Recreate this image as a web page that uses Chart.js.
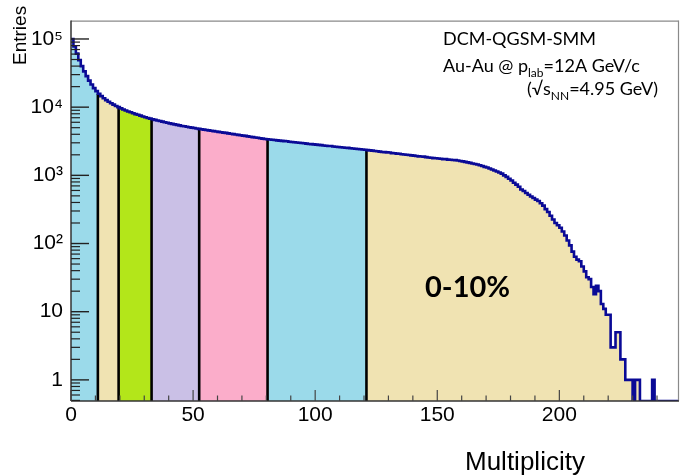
<!DOCTYPE html>
<html>
<head>
<meta charset="utf-8">
<script src="https://cdn.jsdelivr.net/npm/chart.js@4/dist/chart.umd.min.js"></script>
<style>
  html, body { margin: 0; padding: 0; background: #fff; }
  canvas { display: block; }
</style>
</head>
<body>
<canvas id="c" width="681" height="476"></canvas>
<script>
// ---- data ----
// entries per multiplicity bin (bin width 1, bins 0..248)
const entries = [
  100000, 78000, 61000, 49000, 40000, 33500, 28500, 24500, 21500, 19000,
  17200, 15700, 14500, 13500, 12700, 12000, 11400, 10900, 10400, 10000,
  9600, 9250, 8950, 8650, 8400, 8150, 7900, 7740, 7500, 7300,
  7120, 6950, 6800, 6650, 6500, 6370, 6250, 6130, 6010, 5900,
  5790, 5690, 5590, 5500, 5410, 5300, 5240, 5160, 5080, 5010,
  4940, 4870, 4800, 4740, 4680, 4620, 4560, 4500, 4445, 4390,
  4335, 4280, 4225, 4190, 4120, 4070, 4020, 3970, 3920, 3870,
  3825, 3790, 3730, 3685, 3640, 3595, 3550, 3505, 3460, 3420,
  3380, 3350, 3320, 3290, 3260, 3230, 3200, 3170, 3160, 3110,
  3085, 3055, 3030, 3000, 2975, 2950, 2920, 2880, 2870, 2845,
  2820, 2795, 2770, 2745, 2720, 2700, 2690, 2650, 2630, 2605,
  2585, 2560, 2540, 2530, 2495, 2475, 2455, 2435, 2415, 2395,
  2375, 2340, 2320, 2300, 2270, 2260, 2230, 2200, 2190, 2170,
  2160, 2120, 2110, 2080, 2070, 2040, 2025, 2000, 1985, 1960,
  1945, 1920, 1900, 1890, 1880, 1850, 1830, 1815, 1790, 1780,
  1770, 1750, 1730, 1735, 1700, 1690, 1680, 1670, 1650, 1625,
  1600, 1575, 1550, 1525, 1495, 1470, 1440, 1405, 1370, 1330,
  1300, 1260, 1220, 1180, 1140, 1100, 1060, 1000, 950, 890,
  840, 780, 730, 680, 620, 590, 550, 520, 490, 465,
  440, 420, 390, 360, 320, 290, 255, 225, 200, 185,
  170, 150, 131, 111, 94, 76, 64, 58, 55, 46,
  39, 32, 30, 23, 18, 24, 20, 13, 11, 9,
  9, 3, 3, 5, 5, 2, 2, 1, 1, 1,
  0, 1, 1, 0, 0, 0, 0, 0, 1, 0,
  0, 0, 0, 0, 0, 0, 0, 0, 0
];
// centrality class boundaries in multiplicity
const classEdges = [0, 11, 19.5, 33, 52.5, 80.5, 121, 249];
const classColors = ['#9bdaea', '#f0e3b2', '#b3e61a', '#cac0e6', '#fbadca', '#9bdaea', '#f0e3b2'];
const classLabel = '0-10%';

const xTickValues = [0, 50, 100, 150, 200];
const yTickValues = [1, 10, 100, 1000, 10000, 100000];
const yTickLabels = ['1', '10', '10\u00B2', '10\u00B3', '10\u2074', '10\u2075'];
const X_MIN = 0, X_MAX = 249;
const Y_MIN = 0.49, Y_MAX = 186000;

// ---- build datasets ----
const shown = v => (v > 0 ? v : Y_MIN); // empty bins drawn at the axis floor (as ROOT does)

function segmentPoints(a, b) {
  const pts = [{ x: a, y: shown(entries[Math.floor(a)]) }];
  for (let i = Math.floor(a) + 1; i <= Math.ceil(b) - 1; i++) pts.push({ x: i, y: shown(entries[i]) });
  pts.push({ x: b, y: shown(entries[Math.ceil(b) - 1]) });
  return pts;
}

const datasets = [];
// outline histogram
datasets.push({
  data: segmentPoints(X_MIN, X_MAX),
  stepped: 'before',
  borderColor: '#0a0a96',
  borderWidth: 2.6,
  fill: false,
  pointRadius: 0,
  order: 0
});
// class boundaries (black lines)
for (let k = 1; k < classEdges.length - 1; k++) {
  const b = classEdges[k];
  datasets.push({
    data: [{ x: b, y: Y_MIN }, { x: b, y: shown(entries[Math.floor(b)]) }],
    borderColor: '#000',
    borderWidth: 2.6,
    fill: false,
    pointRadius: 0,
    order: 1
  });
}
// filled classes
for (let k = 0; k < classEdges.length - 1; k++) {
  datasets.push({
    data: segmentPoints(classEdges[k], classEdges[k + 1]),
    stepped: 'before',
    borderWidth: 0,
    borderColor: 'rgba(0,0,0,0)',
    backgroundColor: classColors[k],
    fill: 'start',
    pointRadius: 0,
    order: 2
  });
}

// ---- axes, ticks, frame and texts ----
const overlay = {
  id: 'overlay',
  afterDatasetsDraw(chart) {
    const { ctx, chartArea: a, scales: { x, y } } = chart;
    ctx.save();
    const seg = (x1, y1, x2, y2) => { ctx.beginPath(); ctx.moveTo(x1, y1); ctx.lineTo(x2, y2); ctx.stroke(); };
    // frame
    ctx.strokeStyle = '#8a8a8a'; ctx.lineWidth = 1.2;
    seg(a.left, a.top + 0.5, a.right - 0.5, a.top + 0.5);
    seg(a.right - 0.5, a.top, a.right - 0.5, a.bottom);
    ctx.strokeStyle = '#333'; ctx.lineWidth = 1.5;
    seg(a.left, a.top, a.left, a.bottom);
    seg(a.left, a.bottom, a.right, a.bottom);
    // y ticks (log)
    ctx.strokeStyle = '#222'; ctx.lineWidth = 1.4;
    for (const v of yTickValues) { const py = y.getPixelForValue(v); seg(a.left, py, a.left + 18, py); }
    ctx.lineWidth = 1.2;
    for (let d = -1; d <= 5; d++) {
      for (let m = 2; m <= 9; m++) {
        const v = m * Math.pow(10, d);
        if (v < Y_MIN || v > Y_MAX) continue;
        const py = y.getPixelForValue(v);
        seg(a.left, py, a.left + 9, py);
      }
    }
    // x ticks
    ctx.strokeStyle = '#444'; ctx.lineWidth = 1.2;
    for (let v = X_MIN; v <= X_MAX; v += 10) {
      const px = x.getPixelForValue(v);
      const len = (v % 50 === 0) ? 11 : 5.5;
      seg(px, a.bottom, px, a.bottom - len);
    }
    ctx.restore();
  },
  afterDraw(chart) {
    const { ctx } = chart;
    ctx.save();
    ctx.fillStyle = '#000';
    ctx.textBaseline = 'alphabetic';
    // axis titles
    ctx.font = '26px "Liberation Sans", Arial, sans-serif';
    ctx.textAlign = 'left';
    ctx.fillText('Multiplicity', 465, 470);
    ctx.save();
    ctx.translate(26, 65);
    ctx.rotate(-Math.PI / 2);
    ctx.font = '19px "Liberation Sans", Arial, sans-serif';
    ctx.fillText('Entries', 0, 0);
    ctx.restore();
    // model annotation
    const big = '18px Lato, "Open Sans", sans-serif';
    const small = '12px Lato, "Open Sans", sans-serif';
    const rich = (x0, y0, parts) => {
      let cx = x0;
      for (const p of parts) {
        ctx.font = p.sub ? small : big;
        ctx.fillText(p.t, cx, y0 + (p.sub ? 5 : 0));
        cx += ctx.measureText(p.t).width;
      }
    };
    rich(443, 45, [{ t: 'DCM-QGSM-SMM' }]);
    rich(443, 72, [{ t: 'Au-Au @ p' }, { t: 'lab', sub: true }, { t: '=12A GeV/c' }]);
    rich(527, 95, [{ t: '(\u221As' }, { t: 'NN', sub: true }, { t: '=4.95 GeV)' }]);
    // class label
    ctx.font = 'bold 29px Lato, "Open Sans", sans-serif';
    ctx.fillText(classLabel, 425, 297);
    ctx.restore();
  }
};

new Chart(document.getElementById('c').getContext('2d'), {
  type: 'line',
  data: { datasets },
  options: {
    responsive: false,
    animation: false,
    devicePixelRatio: 1,
    layout: { padding: { left: 0, top: 8, right: 2, bottom: 0 } },
    plugins: { legend: { display: false }, tooltip: { enabled: false } },
    elements: { point: { radius: 0 } },
    scales: {
      x: {
        type: 'linear', min: X_MIN, max: X_MAX,
        grid: { display: false, drawTicks: false },
        border: { display: false },
        afterBuildTicks: s => { s.ticks = xTickValues.map(v => ({ value: v })); },
        afterFit: s => { s.height = 75; },
        ticks: {
          autoSkip: false, maxRotation: 0, padding: 2, color: '#000',
          font: { family: '"Liberation Sans", Arial, sans-serif', size: 21 },
          callback: v => String(v)
        }
      },
      y: {
        type: 'logarithmic', min: Y_MIN, max: Y_MAX,
        grid: { display: false, drawTicks: false },
        border: { display: false },
        afterBuildTicks: s => { s.ticks = yTickValues.map(v => ({ value: v, major: true })); },
        afterFit: s => { s.width = 71; },
        ticks: {
          autoSkip: false, padding: 8, color: '#000',
          font: { family: '"Liberation Sans", Arial, sans-serif', size: 21 },
          callback: (v, i) => yTickLabels[i]
        }
      }
    }
  },
  plugins: [overlay]
});
</script>
</body>
</html>
